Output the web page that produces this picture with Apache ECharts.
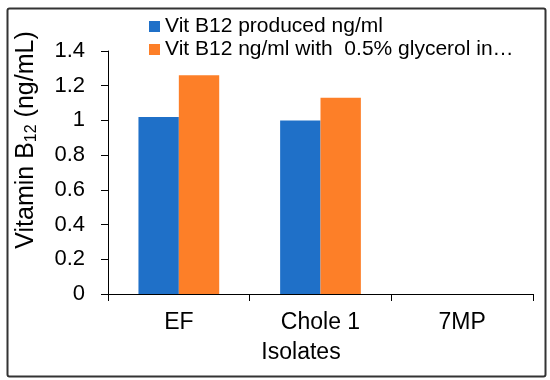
<!DOCTYPE html>
<html><head><meta charset="utf-8">
<script src="https://cdn.jsdelivr.net/npm/echarts@6/dist/echarts.min.js"></script>
<style>html,body{margin:0;padding:0;background:#fff}#c{width:550px;height:380px}</style>
</head><body><div id="c"></div>
<script>
const categories = ['EF', 'Chole 1', '7MP'];
const seriesNames = ['Vit B12 produced ng/ml', 'Vit B12 ng/ml with  0.5% glycerol in\u2026'];
const produced = [1.02, 1.00, 0];
const glycerol = [1.26, 1.13, 0];
const yTicks = [0, 0.2, 0.4, 0.6, 0.8, 1, 1.2, 1.4];

const font = 'Liberation Sans, Arial, sans-serif';
const chart = echarts.init(document.getElementById('c'), null, {renderer: 'canvas'});
chart.setOption({
  animation: false,
  color: ['#1f70c8', '#fd7f28'],
  grid: {left: 108, right: 17, top: 51, bottom: 86},
  legend: {
    orient: 'vertical', left: 149, top: 16, itemGap: 2, padding: 0,
    itemWidth: 11, itemHeight: 11, icon: 'rect',
    textStyle: {fontFamily: font, fontSize: 21, lineHeight: 21, color: '#000', padding: [0, 0, 0, 0]},
    data: seriesNames
  },
  xAxis: {
    type: 'category', data: categories,
    axisLine: {lineStyle: {color: '#000', width: 1}},
    axisTick: {show: true, length: 7, lineStyle: {color: '#000'}},
    axisLabel: {fontFamily: font, fontSize: 23, color: '#000', margin: 17}
  },
  yAxis: {
    type: 'value', min: 0, max: 1.4, interval: 0.2,
    splitLine: {show: false},
    axisLine: {show: true, lineStyle: {color: '#000', width: 1}},
    axisTick: {show: true, length: 7, lineStyle: {color: '#000'}},
    axisLabel: {fontFamily: font, fontSize: 22, color: '#000', margin: 23,
      formatter: v => { const t = yTicks.find(x => Math.abs(x - v) < 1e-6); return t === undefined ? '' : String(t); }}
  },
  series: [
    {name: seriesNames[0], type: 'bar', data: produced, barGap: '0%', barCategoryGap: '43%'},
    {name: seriesNames[1], type: 'bar', data: glycerol, barGap: '0%', barCategoryGap: '43%'}
  ],
  graphic: [
    {type: 'rect', left: 5, top: 6, shape: {width: 538, height: 368, r: 2},
     style: {fill: 'none', stroke: '#333', lineWidth: 2}, silent: true},
    {type: 'text', x: 301, y: 353, style: {text: 'Isolates', font: '23px ' + font, fill: '#000', align: 'center', verticalAlign: 'middle'}},
    {type: 'text', x: 26, y: 140, rotation: Math.PI / 2,
     style: {text: '{n|Vitamin B}{s|12}{n| (ng/mL)}', align: 'center', verticalAlign: 'middle',
       rich: {n: {font: '25px ' + font, fill: '#000'}, s: {font: '16px ' + font, fill: '#000', padding: [12, 0, 0, 0]}}}}
  ]
});
</script></body></html>
